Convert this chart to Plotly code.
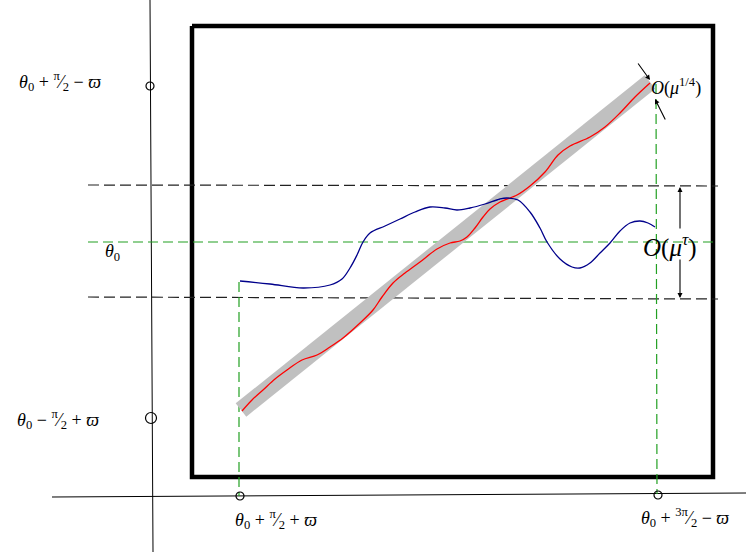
import plotly.graph_objects as go

W, H = 746, 557

# ---- diagram geometry (data coordinates = picture units, y downwards) ----
vaxis_x = [150, 153]
vaxis_y = [0, 552]
haxis_x = [52, 746]
haxis_y = [497, 493]

box_x = [192, 713, 713, 192, 192]
box_y = [26, 26, 477, 477, 26]

upper_dash_x = [88, 718]
upper_dash_y = [185, 186]
lower_dash_x = [88, 718]
lower_dash_y = [297, 299]
theta0_line_x = [88, 716]
theta0_line_y = [242, 242]
left_vert_x = [239, 239]
left_vert_y = [282, 496]
right_vert_x = [656, 657]
right_vert_y = [84, 494]

band_x = [241, 650]
band_y = [410, 82]

red_x = [242, 252, 263, 275, 287, 302, 317, 330, 343, 360, 373, 382, 393, 405, 420,
         437, 450, 460, 467, 475, 483, 490, 500, 517, 530, 545, 558, 570, 590, 605,
         620, 635, 650]
red_y = [411, 400, 390, 379, 370, 360, 355, 347, 338, 323, 310, 297, 283, 273, 262,
         249, 243, 241, 237, 228, 217, 209, 202, 195, 186, 172, 155, 146, 137, 127,
         113, 97, 83]

blue_x = [240, 270, 303, 330, 342, 350, 357, 363, 370, 385, 400, 415, 430, 445, 457,
          470, 485, 500, 507, 518, 530, 540, 547, 560, 572, 580, 590, 600, 610, 620,
          630, 640, 648, 655]
blue_y = [281, 284, 288, 285, 279, 268, 255, 242, 233, 226, 219, 212, 207, 208, 210,
          208, 204, 199, 198, 200, 212, 228, 242, 259, 267, 268, 263, 253, 243, 231,
          223, 221, 223, 227]

circle_x = [150, 240, 658]
circle_y = [86, 496, 495]
big_circle_x = [151]
big_circle_y = [418]

# labels
tick_labels = [
    "<i>θ</i><sub>0</sub> + <sup>π</sup>⁄<sub>2</sub> − <i>ϖ</i>",
    "<i>θ</i><sub>0</sub> − <sup>π</sup>⁄<sub>2</sub> + <i>ϖ</i>",
    "<i>θ</i><sub>0</sub> + <sup>π</sup>⁄<sub>2</sub> + <i>ϖ</i>",
    "<i>θ</i><sub>0</sub> + <sup>3π</sup>⁄<sub>2</sub> − <i>ϖ</i>",
]
tick_label_x = [60, 58, 276, 685]
tick_label_y = [83, 421, 521, 519]

FONT = "Liberation Serif"

fig = go.Figure()

def line(x, y, color, width, dash="solid", shape="linear"):
    fig.add_trace(go.Scatter(x=x, y=y, mode="lines", hoverinfo="skip",
                             line=dict(color=color, width=width, dash=dash, shape=shape)))

line(vaxis_x, vaxis_y, "black", 1)
line(haxis_x, haxis_y, "black", 1)
line(box_x, box_y, "black", 4.5)
line(upper_dash_x, upper_dash_y, "#222222", 1.2, "11px,5px")
line(lower_dash_x, lower_dash_y, "#222222", 1.2, "11px,5px")
line(theta0_line_x, theta0_line_y, "#22a022", 1.2, "10px,5px")
line(left_vert_x, left_vert_y, "#22a022", 1.2, "10px,5px")
line(right_vert_x, right_vert_y, "#22a022", 1.2, "10px,5px")
line(band_x, band_y, "#c0c0c0", 17)
line(red_x, red_y, "red", 1.3, shape="spline")
line(blue_x, blue_y, "#00008b", 1.3, shape="spline")

fig.add_trace(go.Scatter(x=circle_x, y=circle_y, mode="markers", hoverinfo="skip",
                         marker=dict(symbol="circle-open", size=8, color="black",
                                     line=dict(width=1.2, color="black"))))
fig.add_trace(go.Scatter(x=big_circle_x, y=big_circle_y, mode="markers", hoverinfo="skip",
                         marker=dict(symbol="circle-open", size=11, color="black",
                                     line=dict(width=1.2, color="black"))))

fig.add_trace(go.Scatter(x=tick_label_x, y=tick_label_y, mode="text", text=tick_labels,
                         hoverinfo="skip", textposition="middle center",
                         textfont=dict(family=FONT, size=18, color="black")))

# arrows
arrows = [
    # (x, y, ax, ay)
    (650, 80, 637, 62),
    (655, 99, 666, 121),
    (680, 187, 680, 230),
    (680, 298, 680, 258),
]
for x, y, ax, ay in arrows:
    fig.add_annotation(x=x, y=y, ax=ax, ay=ay, xref="x", yref="y", axref="x", ayref="y",
                       showarrow=True, arrowhead=2, arrowsize=0.9, arrowwidth=1.1,
                       arrowcolor="black", text="")

fig.add_annotation(x=649, y=87, xref="x", yref="y", showarrow=False, xanchor="left",
                   text="<i>O</i>(<i>μ</i><sup>1/4</sup>)",
                   font=dict(family=FONT, size=18, color="black"))
fig.add_annotation(x=670, y=245, xref="x", yref="y", showarrow=False,
                   text="<i>O</i>(<i>μ</i><sup><i>τ</i></sup>)",
                   font=dict(family=FONT, size=25, color="black"))
fig.add_annotation(x=112, y=252, xref="x", yref="y", showarrow=False,
                   text="<i>θ</i><sub>0</sub>",
                   font=dict(family=FONT, size=18, color="black"))

fig.update_layout(
    width=W, height=H, margin=dict(l=0, r=0, t=0, b=0),
    plot_bgcolor="white", paper_bgcolor="white", showlegend=False,
    xaxis=dict(range=[0, W], visible=False, fixedrange=True),
    yaxis=dict(range=[H, 0], visible=False, fixedrange=True),
)

fig.write_html("out.html", config={"displayModeBar": False},
               post_script="document.body.style.margin='0';document.body.style.overflow='hidden';")
